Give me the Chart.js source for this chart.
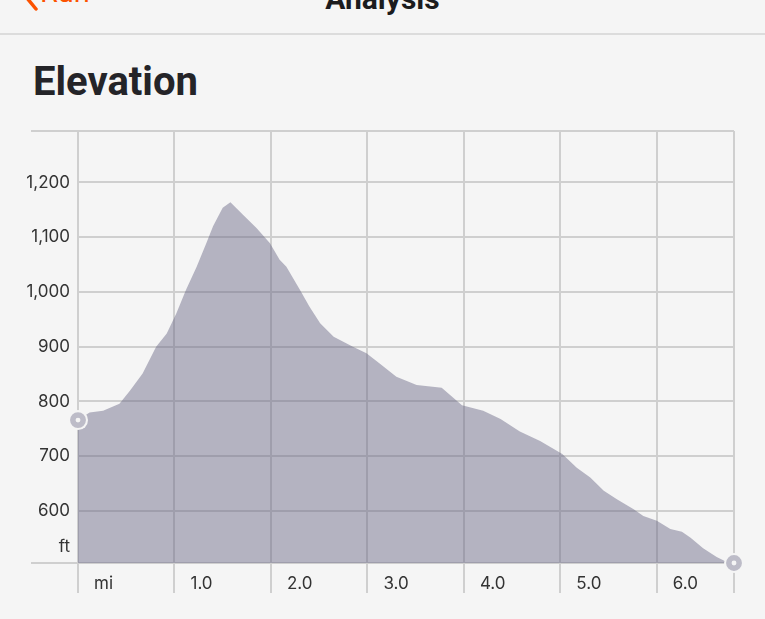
<!DOCTYPE html>
<html>
<head>
<meta charset="utf-8">
<title>Elevation</title>
<script src="https://cdn.jsdelivr.net/npm/chart.js@4.4.0/dist/chart.umd.min.js"></script>
<style>
  html, body { margin: 0; padding: 0; background: #f5f5f5; }
  body { width: 765px; height: 619px; position: relative; overflow: hidden; font-family: Roboto, sans-serif; }
  #chart { position: absolute; left: 0; top: 0; }
  .back-icon { position: absolute; left: 0; top: 0; }
  .back-label { position: absolute; left: 40px; top: -22px; font-size: 29px; line-height: 29px; color: #fc5200; }
  .nav-title { position: absolute; left: 0; width: 765px; top: -16px; text-align: center; font-size: 30px; line-height: 30px; font-weight: 700; color: #1c1c1e; }
  .nav-rule { position: absolute; left: 0; top: 33px; width: 765px; height: 2px; background: #dcdcdc; }
  .section-title { position: absolute; left: 33px; top: 62px; font-size: 40px; line-height: 40px; font-weight: 700; color: #242428; }
</style>
</head>
<body>
<svg class="back-icon" width="50" height="20">
  <polyline points="36,-25 22,-8 36,9" fill="none" stroke="#fc5200" stroke-width="3.5" stroke-linecap="round" stroke-linejoin="round"/>
</svg>
<div class="back-label">Run</div>
<div class="nav-title">Analysis</div>
<div class="nav-rule"></div>
<div class="section-title">Elevation</div>
<canvas id="chart" width="765" height="619"></canvas>
<script>
// distance along the run (mi) and elevation (ft)
const distanceMi = [0, 0.12, 0.26, 0.43, 0.54, 0.67, 0.81, 0.92, 1.02, 1.12,
  1.23, 1.33, 1.40, 1.50, 1.58, 1.71, 1.85, 1.99, 2.09, 2.16,
  2.30, 2.40, 2.51, 2.65, 2.85, 2.99, 3.13, 3.30, 3.51, 3.77,
  3.98, 4.20, 4.38, 4.58, 4.79, 5.02, 5.17, 5.31, 5.45, 5.59,
  5.76, 5.86, 6.00, 6.14, 6.26, 6.35, 6.48, 6.62, 6.71, 6.80];
const elevationFt = [766, 780, 783, 796, 820, 851, 900, 924, 961, 1004,
  1046, 1089, 1120, 1154, 1164, 1141, 1117, 1089, 1059, 1046,
  1004, 973, 943, 918, 900, 888, 869, 845, 830, 825,
  793, 783, 768, 745, 728, 704, 679, 661, 637, 621,
  603, 591, 582, 567, 562, 551, 532, 516, 508, 505];

const yTickValues = [600, 700, 800, 900, 1000, 1100, 1200];
const xTickValues = [0, 1, 2, 3, 4, 5, 6, 6.8];
const yMin = 505;
const yMax = 1294;
const xMax = 6.8;

const bg = '#f5f5f5';
const gridColor = '#cfcfcf';
const labelFont = { family: 'Inter', size: 17 };

const points = distanceMi.map((d, i) => ({ x: d, y: elevationFt[i] }));
const last = points.length - 1;
const endPoints = [points[0], points[last]];

// top border + baseline run further left than the other grid lines, plus the "ft" unit
const frameLines = {
  id: 'frameLines',
  beforeDatasetsDraw(chart) {
    const { ctx, chartArea, scales } = chart;
    ctx.save();
    ctx.strokeStyle = gridColor;
    ctx.lineWidth = 2;
    [yMax, yMin].forEach(v => {
      const y = Math.round(scales.y.getPixelForValue(v));
      ctx.beginPath();
      ctx.moveTo(31, y);
      ctx.lineTo(chartArea.right, y);
      ctx.stroke();
    });
    ctx.fillStyle = '#333';
    ctx.font = '17px Inter';
    ctx.textAlign = 'right';
    ctx.textBaseline = 'middle';
    ctx.fillText('ft', scales.y.right - 8, scales.y.bottom - 16);
    ctx.restore();
  }
};

new Chart(document.getElementById('chart'), {
  type: 'line',
  data: {
    datasets: [
      {
        data: endPoints,
        showLine: false,
        pointRadius: 5.2,
        pointBorderWidth: 5.5,
        pointBorderColor: '#bdbcc8',
        pointBackgroundColor: bg,
        pointHoverRadius: 5.2,
        clip: false,
        order: 0
      },
      {
        data: points,
        borderWidth: 0,
        borderColor: 'rgba(0,0,0,0)',
        backgroundColor: 'rgba(103,101,131,0.46)',
        fill: 'start',
        tension: 0,
        pointRadius: ctx => (ctx.dataIndex === 0 || ctx.dataIndex === last) ? 10 : 0,
        pointHoverRadius: 0,
        pointBorderWidth: 0,
        pointBackgroundColor: bg,
        clip: false,
        order: 1
      }
    ]
  },
  options: {
    responsive: false,
    animation: false,
    layout: { padding: { top: 131, right: 31, left: 0, bottom: 0 } },
    plugins: { legend: { display: false }, tooltip: { enabled: false } },
    scales: {
      x: {
        type: 'linear',
        min: 0,
        max: xMax,
        afterBuildTicks: scale => { scale.ticks = xTickValues.map(v => ({ value: v })); },
        afterFit: scale => { scale.height = 56; },
        border: { display: false },
        grid: { color: gridColor, lineWidth: 2, drawTicks: true, tickLength: 30 },
        ticks: {
          autoSkip: false,
          maxRotation: 0,
          align: 'start',
          labelOffset: 16,
          padding: -19,
          color: '#333',
          font: labelFont,
          callback: v => v === 0 ? 'mi' : (v === xMax ? '' : v.toFixed(1))
        }
      },
      y: {
        min: yMin,
        max: yMax,
        afterBuildTicks: scale => { scale.ticks = yTickValues.map(v => ({ value: v })); },
        afterFit: scale => { scale.width = 78; },
        border: { display: false },
        grid: { color: gridColor, lineWidth: 2, drawTicks: false },
        ticks: {
          padding: 8,
          color: '#333',
          font: labelFont,
          callback: v => v.toLocaleString('en-US')
        }
      }
    }
  },
  plugins: [frameLines]
});
</script>
</body>
</html>
